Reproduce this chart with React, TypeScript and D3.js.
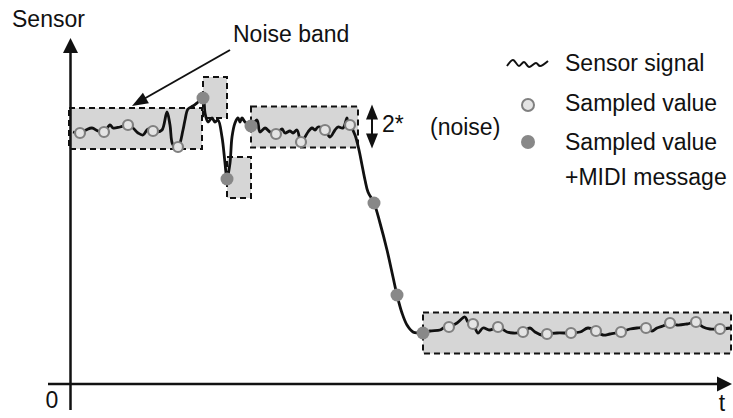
import React from 'react';
import * as d3 from 'd3';

// Sensor signal (t, value)
const signalT = [3,10,16,22,28,34,40,43,50,58,63,68,73,78,83,87,92,97,100,103,108,113,115,118,123,127,133,135,138,142,145,148,152,155,157,160,162,165,168,170,172,175,181,187,190,195,200,206,212,215,220,223,227,231,235,238,242,245,248,255,260,265,268,273,277,278,280,285,289,292,295,298,304,310,317,323,327,332,337,343,348,353,360,370,375,379,387,395,398,403,408,413,420,428,437,443,453,460,465,472,477,487,501,510,518,526,533,540,551,560,567,576,582,587,593,600,607,617,626,633,640,650,661];
const signalV = [252,251,254,256,253,252,259,256,257,259,256,251,249,255,253,252,254,272,259,239,237,254,264,275,278,281,286,271,262,266,262,264,247,221,205,221,247,261,266,262,266,262,258,264,252,256,252,250,255,251,253,251,254,242,247,252,256,254,257,254,247,254,257,256,266,261,259,249,234,219,204,192,181,161,134,107,89,71,59,52,51,51,53,54,57,57,61,67,62,60,51,56,54,57,52,51,52,56,52,49,50,51,51,52,56,53,49,50,52,55,56,56,53,56,58,61,59,60,62,57,55,55,56];

// Sampled values (no MIDI message)
const sampledT = [10,34,58,83,108,206,231,255,280,379,403,428,453,477,501,526,551,576,600,626,650];
const sampledV = [251,252,259,253,237,250,242,254,259,57,60,57,52,50,51,53,52,56,61,62,55];

// Sampled values that produced a MIDI message
const midiT = [133,157,181,304,327,353];
const midiV = [286,205,258,181,89,51];

// Noise bands
const bandStart = [-1,133,157,181,353];
const bandEnd = [132,157,181,288,661];
const bandCenter = [255.5,286.5,206.5,257,51];
const NOISE = 20.5;

const legendLabels = ['Sensor signal', 'Sampled value', 'Sampled value', '+MIDI message'];

const FONT = "'Liberation Sans', Arial, Helvetica, sans-serif";
const FS = 23;

function arrowHead(x1: number, y1: number, x2: number, y2: number, len: number, half: number) {
  const a = Math.atan2(y2 - y1, x2 - x1);
  const bx = x2 - len * Math.cos(a), by = y2 - len * Math.sin(a);
  const px = -Math.sin(a) * half, py = Math.cos(a) * half;
  return `M${x2},${y2}L${bx + px},${by + py}L${bx - px},${by - py}Z`;
}

export default function App() {
  const x = d3.scaleLinear().domain([0, 660]).range([70, 730]);
  const y = d3.scaleLinear().domain([0, 344]).range([384, 40]);

  const idx = d3.range(signalT.length);
  const line = d3.line<number>()
    .x(i => x(signalT[i]))
    .y(i => y(signalV[i]))
    .curve(d3.curveCatmullRom.alpha(0.5));

  const ax0 = x(0) + 0.5;
  const ay0 = y(0);
  const yTop = y(346);
  const xEnd = 732;

  // legend squiggle (glyph offsets)
  const sq: [number, number][] = [[0,3],[6,-3],[12,3],[17,-1],[22,4],[29,0],[33,3],[41,-2]];
  const sqLine = d3.line().curve(d3.curveCatmullRom.alpha(0.5));

  // Noise band annotation arrow
  const nb = { x1: 230, y1: 50, x2: 132, y2: 106 };

  // 2* double arrow spans band 2
  const b2Top = y(bandCenter[3] + NOISE);
  const b2Bot = y(bandCenter[3] - NOISE);
  const dax = 372;

  return (
    <svg width={733} height={418} style={{ position: 'absolute', left: 0, top: 0 }} fontFamily={FONT}>
      <rect width={733} height={418} fill="#fff" />
      {/* bands */}
      {bandStart.map((s, i) => (
        <rect key={i} x={x(s)} y={y(bandCenter[i] + NOISE)} width={x(bandEnd[i]) - x(s)}
          height={y(bandCenter[i] - NOISE) - y(bandCenter[i] + NOISE)}
          fill="#d6d6d6" stroke="#111" strokeWidth={2} strokeDasharray="6,4" />
      ))}
      {/* axes */}
      <line x1={ax0} y1={410} x2={ax0} y2={yTop + 14} stroke="#111" strokeWidth={2.5} />
      <path d={arrowHead(ax0, 400, ax0, yTop, 15, 7.5)} fill="#111" />
      <line x1={48} y1={ay0} x2={xEnd - 14} y2={ay0} stroke="#111" strokeWidth={2.5} />
      <path d={arrowHead(48, ay0, xEnd, ay0, 15, 7.5)} fill="#111" />
      <text x={12} y={27} fontSize={FS} fill="#111">Sensor</text>
      <text x={52} y={408} fontSize={FS} textAnchor="middle" fill="#111">0</text>
      <text x={722} y={411} fontSize={FS} textAnchor="middle" fill="#111">t</text>

      {/* signal */}
      <path d={line(idx) || ''} fill="none" stroke="#111" strokeWidth={2.8} strokeLinejoin="round" />
      {sampledT.map((t, i) => (
        <circle key={'s' + i} cx={x(t)} cy={y(sampledV[i])} r={5} fill="#e4e4e4" stroke="#808080" strokeWidth={2.2} />
      ))}
      {midiT.map((t, i) => (
        <circle key={'m' + i} cx={x(t)} cy={y(midiV[i])} r={6.5} fill="#888" />
      ))}

      {/* Noise band annotation */}
      <text x={233} y={42} fontSize={FS} fill="#111">Noise band</text>
      <line x1={nb.x1} y1={nb.y1} x2={nb.x2 + 10} y2={nb.y2 - 6} stroke="#111" strokeWidth={2} />
      <path d={arrowHead(nb.x1, nb.y1, nb.x2, nb.y2, 16, 6)} fill="#111" />

      {/* 2* (noise) */}
      <line x1={dax} y1={b2Top + 10} x2={dax} y2={b2Bot - 10} stroke="#111" strokeWidth={2} />
      <path d={arrowHead(dax, b2Bot, dax, b2Top - 2, 15, 6)} fill="#111" />
      <path d={arrowHead(dax, b2Top, dax, b2Bot + 1, 15, 6)} fill="#111" />
      <text x={382} y={132} fontSize={FS} fill="#111">2*</text>
      <text x={430} y={135} fontSize={FS} fill="#111">(noise)</text>

      {/* legend */}
      <path d={sqLine(sq.map(([dx, dy]) => [507 + dx, 63 + dy] as [number, number])) || ''} fill="none" stroke="#111" strokeWidth={2} />
      <circle cx={528} cy={105} r={6} fill="#e4e4e4" stroke="#808080" strokeWidth={2} />
      <circle cx={528} cy={142} r={7} fill="#888" />
      <text x={565} y={71} fontSize={FS} fill="#111">{legendLabels[0]}</text>
      <text x={565} y={111} fontSize={FS} fill="#111">{legendLabels[1]}</text>
      <text x={565} y={150} fontSize={FS} fill="#111">{legendLabels[2]}</text>
      <text x={565} y={185} fontSize={FS} fill="#111">{legendLabels[3]}</text>
    </svg>
  );
}
